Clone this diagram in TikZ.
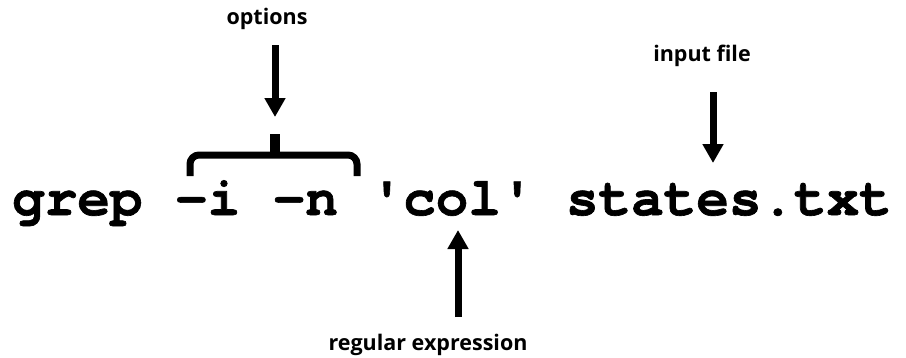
\documentclass[tikz,border=0pt]{standalone}
\usepackage{fontspec}
\setmainfont{Open Sans}
\newfontfamily\cmdfont{texgyrecursor-bold.otf}[FakeBold=1.2]
\usetikzlibrary{arrows.meta}

\begin{document}
\begin{tikzpicture}[x=1pt, y=-1pt,
  label/.style={font=\fontsize{21.5}{24}\selectfont\bfseries, inner sep=0pt, anchor=base},
  command/.style={font=\fontsize{54.3}{60}\selectfont\cmdfont, inner sep=0pt, anchor=base west},
  pointer/.style={line width=7pt, -{Triangle[width=20pt,length=19pt]}}]

\useasboundingbox (0,0) rectangle (906,357);

\node[command] (cmd) at (12,215) {grep -i -n 'col' states.txt};

\node[label] (options) at (267,24) {options};
\node[label] (input) at (702,61) {input file};
\node[label] (regex) at (428,350) {regular expression};

\coordinate (optFrom) at (275,45);
\coordinate (optTo) at (275,117);
\coordinate (inFrom) at (713,92);
\coordinate (inTo) at (713,163);
\coordinate (reFrom) at (458,317);
\coordinate (reTo) at (458,230);

\path[draw, pointer] (optFrom) -- (optTo);
\path[draw, pointer] (inFrom) -- (inTo);
\path[draw, pointer] (reFrom) -- (reTo);

% brace over the options
\path[draw, line width=7pt, rounded corners=9pt] (190,176) -- (190,155) -- (357,155) -- (357,176);
\path[draw, line width=10pt] (275,134) -- (275,155);

\end{tikzpicture}
\end{document}
